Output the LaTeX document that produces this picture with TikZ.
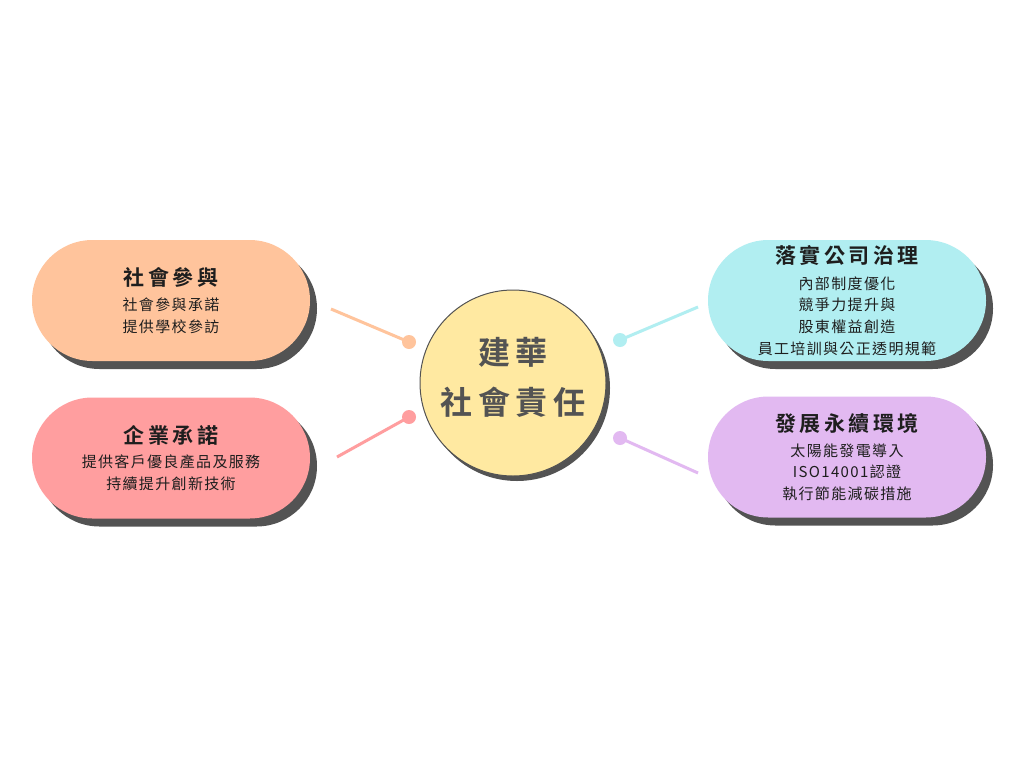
\documentclass[tikz,border=0pt]{standalone}
\usepackage{fontspec}
\setmainfont{Noto Sans CJK TC}
\newfontfamily\titlefont{Noto Sans CJK TC}[LetterSpace=17,BoldFont={* Bold}]
\newfontfamily\bodyfont{Noto Sans CJK TC}[LetterSpace=9]
\usepackage{tikz}
\usetikzlibrary{calc,positioning,shadows}

\definecolor{peach}{HTML}{FFC49C}
\definecolor{rose}{HTML}{FF9E9F}
\definecolor{aqua}{HTML}{B1EEF1}
\definecolor{lilac}{HTML}{E2B9F1}
\definecolor{hubfill}{HTML}{FFE9A1}
\definecolor{shade}{HTML}{535353}
\definecolor{ink}{HTML}{1E1E1E}

\newcommand{\ttl}[1]{{\titlefont\bfseries\fontsize{21}{21.5}\selectfont #1}}

\begin{document}
\begin{tikzpicture}[x=1pt,y=-1pt,
  pill/.style={rounded corners=60.5pt,minimum width=278pt,minimum height=121pt,
    align=center,text=ink,font=\bodyfont\fontsize{15}{21.7}\selectfont,
    drop shadow={shadow xshift=7pt,shadow yshift=-8pt,opacity=1,fill=shade}},
  hub/.style={circle,draw=shade,line width=1pt,fill=hubfill,minimum size=186pt,
    align=center,text=shade,text depth=14pt,
    font=\titlefont\bfseries\fontsize{32}{50}\selectfont,
    drop shadow={shadow xshift=4pt,shadow yshift=-5pt,opacity=1,fill=shade}},
  link/.style={line width=3pt},
  dot/.style={circle,inner sep=0pt,minimum size=14pt}]
\useasboundingbox[fill=white] (0,0) rectangle (1024,768);

\node[hub] (H) at (513,383) {建華\\社會責任};

\path (H)
    to ++(-342,-82.5) node[pill,fill=peach] (P1) {\ttl{社會參與}\\[3pt]社會參與承諾\\提供學校參訪}
    to ++(0,157.5) node[pill,fill=rose] (P2) {\ttl{企業承諾}\\[3pt]提供客戶優良產品及服務\\持續提升創新技術}
    ;
\path (H)
    to ++(334,-82.5) node[pill,fill=aqua] (P3) {\ttl{落實公司治理}\\[4pt]內部制度優化\\競爭力提升與\\股東權益創造\\員工培訓與公正透明規範}
    to ++(0,156.5) node[pill,fill=lilac] (P4) {\ttl{發展永續環境}\\[3pt]太陽能發電導入\\ISO14001認證\\執行節能減碳措施}
    ;

% connectors
\node[dot,fill=peach] (d1) at (409,342) {};
\node[dot,fill=rose] (d2) at (409,417) {};
\node[dot,fill=aqua] (d3) at (620,340) {};
\node[dot,fill=lilac] (d4) at (620,438) {};
\coordinate (e1) at (331,309);
\coordinate (e2) at (337,457);
\coordinate (e3) at (698,307);
\coordinate (e4) at (698,473);
\draw[link,peach] (e1) -- (d1.center);
\draw[link,rose] (e2) -- (d2.center);
\draw[link,aqua] (e3) -- (d3.center);
\draw[link,lilac] (e4) -- (d4.center);
\end{tikzpicture}
\end{document}
